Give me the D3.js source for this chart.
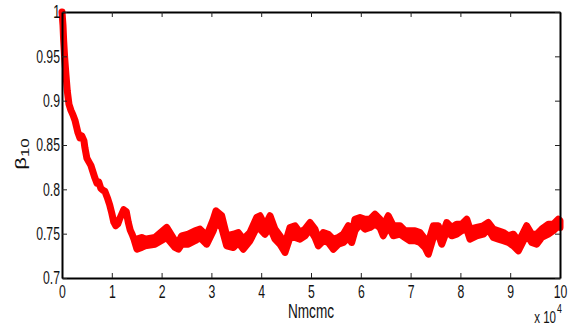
<!DOCTYPE html>
<html>
<head>
<meta charset="utf-8">
<script src="https://cdn.jsdelivr.net/npm/d3@7"></script>
<style>
  body { margin: 0; background: #fff; }
  svg { display: block; }
  text { font-family: "Liberation Sans", Arial, sans-serif; fill: #111; }
</style>
</head>
<body>
<svg width="572" height="326"></svg>
<script>
// ---- data ----
// burn-in part: the trace falls fast, one centre value per point
const burnN    = [0, 200, 340, 540, 800, 1060, 1400, 1800, 2200, 2600, 2900, 3200, 3600, 4000, 4400, 4600, 5000, 5400, 5800, 6200, 6600, 7000, 7400, 7800, 8200, 8600, 9200, 9600, 10000, 10400, 10800, 11200, 11600, 12000, 12400, 12900, 13300, 13700, 14100, 14500];
const burnBeta = [1.0, 0.985, 0.967, 0.948, 0.929, 0.911, 0.896, 0.889, 0.884, 0.878, 0.871, 0.864, 0.858, 0.860, 0.855, 0.847, 0.835, 0.831, 0.827, 0.820, 0.813, 0.807, 0.808, 0.801, 0.799, 0.798, 0.789, 0.782, 0.773, 0.763, 0.759, 0.761, 0.767, 0.772, 0.777, 0.775, 0.763, 0.754, 0.749, 0.743];

// stationary part: upper and lower edge of the noisy trace
const statN = [15060, 16000, 16670, 18670, 21020, 22690, 23360, 24030, 25360, 26710, 27710, 29060, 30380, 30920, 32070, 33070, 34400, 35400, 36410, 37750, 39100, 39760, 40760, 41770, 42770, 43770, 44780, 45780, 46790, 47790, 48790, 49800, 50800, 51470, 52470, 53470, 54480, 55480, 56490, 57490, 58170, 58830, 59840, 60840, 61850, 62850, 63850, 64510, 65520, 66520, 67870, 68870, 69880, 70880, 71890, 72890, 73560, 74560, 75570, 76250, 77250, 78250, 79260, 80260, 81270, 81930, 83270, 84600, 85610, 86610, 87610, 88620, 89620, 90630, 91630, 92310, 93310, 94320, 95320, 96330, 97650, 98650, 99660, 100000];
const statHi = [0.7438, 0.7457, 0.7438, 0.7457, 0.7570, 0.7420, 0.7401, 0.7476, 0.7494, 0.7533, 0.7551, 0.7476, 0.7663, 0.7758, 0.7702, 0.7476, 0.7494, 0.7513, 0.7438, 0.7513, 0.7683, 0.7702, 0.7589, 0.7702, 0.7551, 0.7476, 0.7381, 0.7570, 0.7589, 0.7513, 0.7551, 0.7626, 0.7551, 0.7438, 0.7513, 0.7494, 0.7438, 0.7457, 0.7494, 0.7589, 0.7476, 0.7663, 0.7683, 0.7663, 0.7663, 0.7720, 0.7663, 0.7589, 0.7702, 0.7589, 0.7589, 0.7533, 0.7533, 0.7533, 0.7513, 0.7438, 0.7401, 0.7589, 0.7589, 0.7457, 0.7626, 0.7570, 0.7607, 0.7607, 0.7663, 0.7551, 0.7570, 0.7589, 0.7626, 0.7551, 0.7533, 0.7513, 0.7476, 0.7494, 0.7420, 0.7476, 0.7589, 0.7494, 0.7494, 0.7551, 0.7607, 0.7607, 0.7663, 0.7649];
const statLo = [0.7325, 0.7344, 0.7363, 0.7381, 0.7457, 0.7344, 0.7325, 0.7381, 0.7381, 0.7420, 0.7457, 0.7381, 0.7533, 0.7626, 0.7570, 0.7363, 0.7344, 0.7401, 0.7325, 0.7420, 0.7570, 0.7551, 0.7494, 0.7570, 0.7438, 0.7381, 0.7288, 0.7457, 0.7457, 0.7438, 0.7476, 0.7551, 0.7457, 0.7363, 0.7420, 0.7401, 0.7325, 0.7381, 0.7401, 0.7457, 0.7401, 0.7533, 0.7607, 0.7551, 0.7570, 0.7607, 0.7570, 0.7476, 0.7589, 0.7476, 0.7494, 0.7457, 0.7420, 0.7420, 0.7401, 0.7344, 0.7269, 0.7457, 0.7494, 0.7381, 0.7533, 0.7476, 0.7494, 0.7533, 0.7551, 0.7438, 0.7476, 0.7494, 0.7551, 0.7457, 0.7438, 0.7420, 0.7401, 0.7363, 0.7307, 0.7381, 0.7494, 0.7401, 0.7381, 0.7457, 0.7494, 0.7533, 0.7589, 0.7570];

const xTicks = [0, 1, 2, 3, 4, 5, 6, 7, 8, 9, 10];           // in units of 10^4
const yTicks = [0.7, 0.75, 0.8, 0.85, 0.9, 0.95, 1];

// ---- layout ----
const svg = d3.select("svg");
const mLeft = 62, mRight = 560, mTop = 12, mBottom = 278;
const squeeze = 0.68;   // the original picture is narrowed horizontally

const x = d3.scaleLinear().domain([0, 100000]).range([mLeft, mRight]);
const y = d3.scaleLinear().domain([0.7, 1]).range([mBottom, mTop]);

// one trace: burn-in centre line, then the band of the stationary part
const trace = burnN.map((n, i) => ({ n: n, hi: burnBeta[i], lo: burnBeta[i] }))
  .concat(statN.map((n, i) => ({ n: n, hi: statHi[i], lo: statLo[i] })));

const area = d3.area()
  .x(d => x(d.n))
  .y0(d => y(d.lo))
  .y1(d => y(d.hi));

svg.append("path")
  .datum(trace)
  .attr("d", area)
  .attr("fill", "#ff0000")
  .attr("stroke", "#ff0000")
  .attr("stroke-width", 7)
  .attr("stroke-linejoin", "round")
  .attr("stroke-linecap", "round");

// ---- axes (box with inward ticks on every side) ----
const xs = d3.scaleLinear().domain([0, 10]).range([mLeft, mRight]);

const gx = svg.append("g")
  .attr("transform", `translate(0,${mBottom})`)
  .call(d3.axisBottom(xs).tickValues(xTicks).tickFormat(d3.format("d")).tickSize(-5).tickSizeOuter(0).tickPadding(7));
const gxt = svg.append("g")
  .attr("transform", `translate(0,${mTop})`)
  .call(d3.axisTop(xs).tickValues(xTicks).tickFormat("").tickSize(-5).tickSizeOuter(0));
const gy = svg.append("g")
  .attr("transform", `translate(${mLeft},0)`)
  .call(d3.axisLeft(y).tickValues(yTicks).tickFormat(d => String(d)).tickSize(-5).tickSizeOuter(0).tickPadding(3));
const gyr = svg.append("g")
  .attr("transform", `translate(${mRight},0)`)
  .call(d3.axisRight(y).tickValues(yTicks).tickFormat("").tickSize(-5).tickSizeOuter(0));

[gx, gxt, gy, gyr].forEach(g => {
  g.select(".domain").attr("stroke", "#000").attr("stroke-width", 2);
  g.selectAll(".tick line").attr("stroke", "#222").attr("stroke-width", 1);
  g.selectAll(".tick text")
    .style("font-size", "18px")
    .attr("fill", "#111")
    .attr("transform", `scale(${squeeze},1)`);
});

// ---- labels ----
svg.append("text")
  .attr("transform", `translate(${(mLeft + mRight) / 2},${318}) scale(${squeeze},1)`)
  .attr("text-anchor", "middle")
  .style("font-size", "20px")
  .text("Nmcmc");

const yl = svg.append("text")
  .attr("transform", `translate(26,${154}) rotate(-90) scale(1,${squeeze})`)
  .attr("text-anchor", "middle")
  .style("font-size", "22px");
yl.append("tspan").text("β");
yl.append("tspan").attr("dy", 5).style("font-size", "17px").text("10");

const mult = svg.append("text")
  .attr("transform", `translate(556,${323}) scale(${squeeze},1)`)
  .attr("text-anchor", "end")
  .style("font-size", "17px");
mult.append("tspan").text("x 10");
svg.append("text")
  .attr("transform", `translate(557,${313}) scale(${squeeze},1)`)
  .style("font-size", "13px")
  .text("4");
</script>
</body>
</html>
